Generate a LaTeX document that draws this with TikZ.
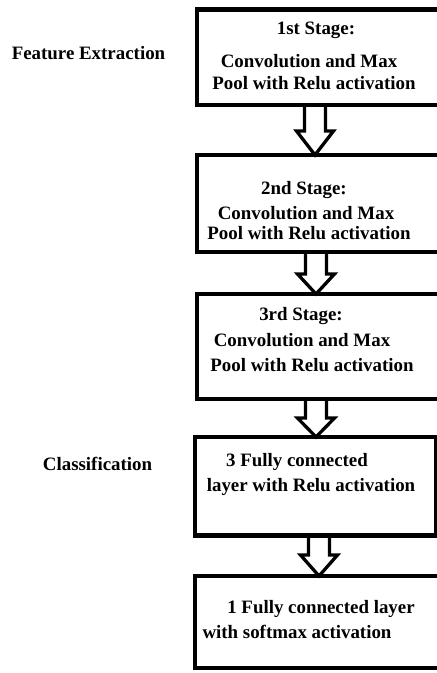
\documentclass[tikz,border=0pt]{standalone}
\usepackage{fontspec}
\setmainfont{Liberation Serif}
\usetikzlibrary{calc}

\newcommand\diagfont{\fontsize{18.9bp}{22bp}\selectfont\bfseries}

% hollow block arrow from the bottom of #1 to the top of #2, along column #3, head length #4
\newcommand\flowarrow[4]{%
  \draw[hollowarrow]
    ($(#1.south -| #3)+(-10.5,0)$) -- ($(#2.north -| #3)+(-10.5,-#4)$)
    -- ($(#2.north -| #3)+(-18.5,-#4)$) -- (#2.north -| #3)
    -- ($(#2.north -| #3)+(18.5,-#4)$) -- ($(#2.north -| #3)+(10.5,-#4)$)
    -- ($(#1.south -| #3)+(10.5,0)$);}

\begin{document}
\begin{tikzpicture}[x=1bp,y=-1bp,
  stagebox/.style={draw=black, line width=4.2bp, rectangle, inner sep=0pt, outer sep=0pt},
  hollowarrow/.style={draw=black, line width=3.3bp, line join=miter},
  txt/.style={anchor=base, inner sep=0pt, font=\diagfont}]

\useasboundingbox (0,0) rectangle (437,673);
\clip (0,0) rectangle (437,673);

% stage boxes
\node[stagebox, minimum width=253bp, minimum height=95.5bp] (b1) at (323.5,57.25) {};
\node[stagebox, minimum width=253bp, minimum height=97bp]   (b2) at (323.5,203.5) {};
\node[stagebox, minimum width=253bp, minimum height=105bp]  (b3) at (323.5,346.5) {};
\node[stagebox, minimum width=241.5bp, minimum height=98.5bp] (b4) at (315.75,486.25) {};
\node[stagebox, minimum width=255bp, minimum height=92bp]   (b5) at (322.5,622) {};

% arrow columns
\coordinate (c1) at (315,0);
\coordinate (c2) at (316,0);
\coordinate (c3) at (316,0);
\coordinate (c4) at (319,0);

\flowarrow{b1}{b2}{c1}{24}
\flowarrow{b2}{b3}{c2}{20}
\flowarrow{b3}{b4}{c3}{19}
\flowarrow{b4}{b5}{c4}{21}

% side labels
\node[txt] (fe) at (88.5,60) {Feature Extraction};
\node[txt] (cl) at (97.5,470) {Classification};

% box texts
\node[txt] (t11) at (316,35) {1st Stage:};
\node[txt] (t12) at (309,68) {Convolution and Max};
\node[txt] (t13) at (314,90) {Pool with Relu activation};

\node[txt] (t21) at (304,194) {2nd Stage:};
\node[txt] (t22) at (306,219) {Convolution and Max};
\node[txt] (t23) at (309,239) {Pool with Relu activation};

\node[txt] (t31) at (301,320) {3rd Stage:};
\node[txt] (t32) at (302,346) {Convolution and Max};
\node[txt] (t33) at (312,371) {Pool with Relu activation};

\node[txt] (t41) at (297,466) {3 Fully connected};
\node[txt] (t42) at (311,491) {layer with Relu activation};

\node[txt] (t51) at (321,613) {1 Fully connected layer};
\node[txt] (t52) at (297,638) {with softmax activation};
\end{tikzpicture}
\end{document}
